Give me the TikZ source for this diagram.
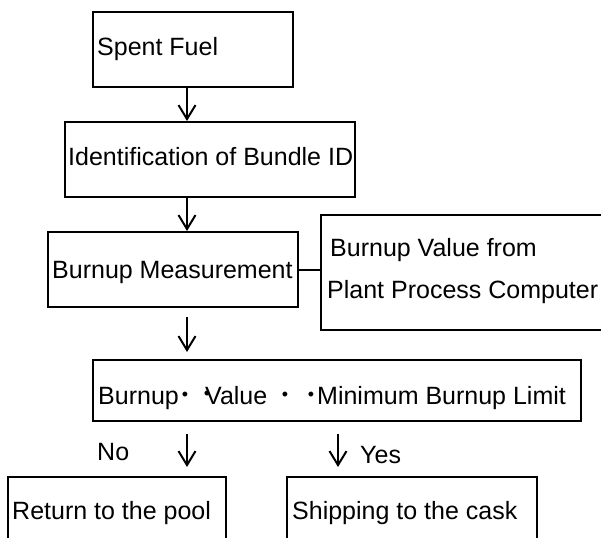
\documentclass[tikz,border=0pt]{standalone}
\usepackage{fontspec}
\setmainfont{Liberation Sans}
\usetikzlibrary{arrows.meta,calc}
\begin{document}
\begin{tikzpicture}[x=1pt,y=-1pt,
  box/.style={draw=black,line width=2pt,rectangle,inner sep=0pt},
  lbl/.style={anchor=base west,inner sep=0pt,font=\fontsize{25}{30}\selectfont},
  dot/.style={anchor=base,inner sep=0pt,font=\fontsize{18}{20}\selectfont},
  arr/.style={line width=2pt,-{Straight Barb[length=14pt,width=17pt,line width=2pt]}},
  link/.style={line width=2pt}]
\useasboundingbox (0,0) rectangle (601,537);
% boxes
\node[box,minimum width=200,minimum height=75] (fuel)  at (193,49.5) {};
\node[box,minimum width=290,minimum height=75] (ident) at (210,159.5) {};
\node[box,minimum width=250,minimum height=75] (meas)  at (173,269.5) {};
\node[box,minimum width=299,minimum height=115] (ppc)  at (470.5,272.5) {};
\node[box,minimum width=488,minimum height=61] (cmp)   at (337,390.5) {};
\node[box,minimum width=218,minimum height=83] (pool)  at (117,518.5) {};
\node[box,minimum width=250,minimum height=83] (cask)  at (412,518.5) {};
% arrow columns
\coordinate (ax) at (187,0);
\coordinate (bx) at (338,0);
% texts
\node[lbl] (t1) at (97,56) {Spent Fuel};
\node[lbl] (t2) at (68,166) {Identification of Bundle ID};
\node[lbl] (t3) at (52,278) {Burnup Measurement};
\node[lbl] (t4a) at (330,256) {Burnup Value from};
\node[lbl] (t4b) at (327,298) {Plant Process Computer};
\node[lbl] (t5a) at (98,404) {Burnup};
\node[dot] (d1) at (185,400) {•};
\node[dot] (d2) at (207,399) {•};
\node[lbl] (t5b) at (205,404) {Value};
\node[dot] (d3) at (285,400) {•};
\node[dot] (d4) at (311,400) {•};
\node[lbl] (t5c) at (317,404) {Minimum Burnup Limit};
\node[lbl] (no) at (97,460) {No};
\node[lbl] (yes) at (360,463) {Yes};
\node[lbl] (t6) at (12,519) {Return to the pool};
\node[lbl] (t7) at (292,519) {Shipping to the cask};
% connectors
\draw[arr] (fuel.south -| ax) -- (ident.north -| ax);
\draw[arr] (ident.south -| ax) -- (meas.north -| ax);
\draw[link] (meas.east) -- (meas.east -| ppc.west);
\draw[arr] ([yshift=-9pt]meas.south -| ax) -- ([yshift=7pt]cmp.north -| ax);
\draw[arr] ([yshift=-12pt]cmp.south -| ax) -- ([yshift=9pt]pool.north -| ax);
\draw[arr] ([yshift=-12pt]cmp.south -| bx) -- ([yshift=9pt]cask.north -| bx);
\end{tikzpicture}
\end{document}
